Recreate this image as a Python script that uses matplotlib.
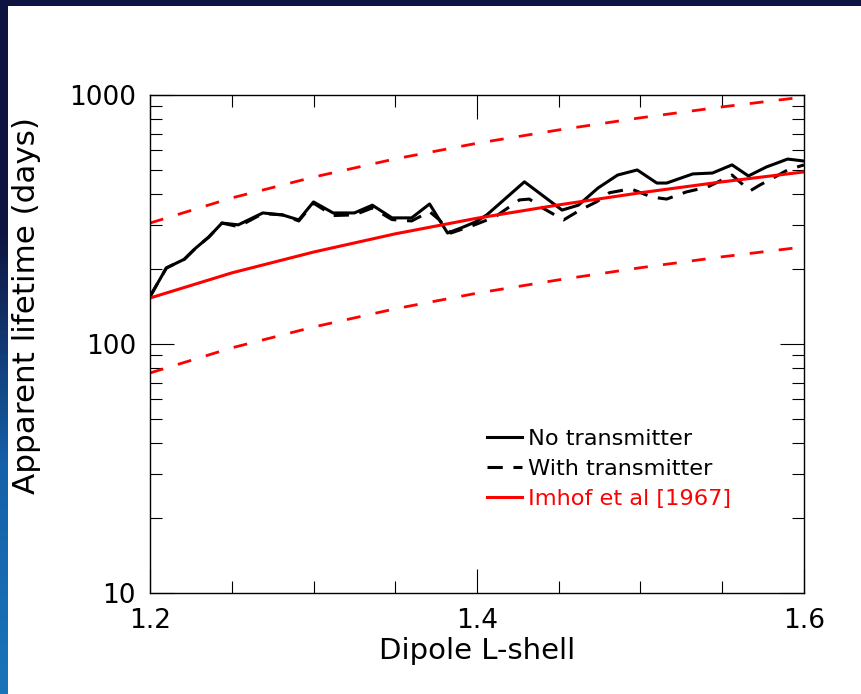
import numpy as np
import matplotlib
matplotlib.use("Agg")
import matplotlib.pyplot as plt
from matplotlib.colors import LinearSegmentedColormap
from matplotlib.ticker import FixedLocator, FuncFormatter

# --- data ---
L_no = [1.200, 1.210, 1.221, 1.228, 1.236, 1.244, 1.254, 1.269, 1.281, 1.291,
        1.300, 1.312, 1.325, 1.336, 1.348, 1.360, 1.371, 1.382, 1.390, 1.399,
        1.406, 1.429, 1.452, 1.462, 1.474, 1.486, 1.498, 1.510, 1.516, 1.532,
        1.544, 1.556, 1.566, 1.577, 1.590, 1.600]
life_no = [155, 202, 219, 243, 269, 306, 301, 336, 330, 315,
           372, 336, 336, 361, 321, 321, 365, 279, 292, 309,
           330, 448, 345, 361, 423, 477, 500, 443, 443, 482,
           486, 524, 473, 514, 553, 543]

L_with = [1.200, 1.210, 1.221, 1.228, 1.236, 1.244, 1.254, 1.269, 1.281, 1.291,
          1.300, 1.312, 1.325, 1.336, 1.348, 1.360, 1.371, 1.377, 1.384, 1.398,
          1.411, 1.426, 1.432, 1.439, 1.453, 1.463, 1.473, 1.481, 1.494, 1.507,
          1.516, 1.528, 1.541, 1.556, 1.567, 1.573, 1.581, 1.590, 1.600]
life_with = [155, 202, 219, 243, 269, 306, 296, 334, 330, 312,
             368, 328, 330, 352, 316, 312, 340, 315, 279, 300,
             324, 379, 382, 355, 315, 345, 372, 405, 420, 389,
             382, 408, 427, 477, 412, 435, 464, 500, 524]

L_imhof = [1.20, 1.25, 1.30, 1.35, 1.40, 1.45, 1.50, 1.55, 1.60]
imhof = [153, 193, 234, 277, 320, 362, 405, 448, 491]
imhof_hi = [306, 386, 468, 554, 640, 724, 810, 896, 982]
imhof_lo = [76.5, 96.5, 117, 138.5, 160, 181, 202.5, 224, 245.5]

x_major = [1.2, 1.4, 1.6]
x_minor = [1.25, 1.30, 1.35, 1.45, 1.50, 1.55]
y_major = [10, 100, 1000]

plt.rcParams["font.family"] = ["DejaVu Sans"]

fig = plt.figure(figsize=(8.62, 6.94), dpi=100, facecolor="white")

# slide frame: navy band on top, navy->blue strip on the left
top = fig.add_axes([0, 1 - 6 / 694, 1, 6 / 694])
top.set_axis_off()
top.add_patch(plt.Rectangle((0, 0), 1, 1, color="#0e1440", transform=top.transAxes))
left = fig.add_axes([0, 0, 8 / 862, 1])
cmap = LinearSegmentedColormap.from_list("strip", ["#0e1440", "#0e1440", "#1560a8", "#1a74b8"])
left.imshow(np.linspace(0, 1, 200).reshape(-1, 1), aspect="auto", cmap=cmap, extent=[0, 1, 0, 1])
left.set_axis_off()

ax = fig.add_axes([150 / 862, 1 - 593 / 694, 654 / 862, 498 / 694])

ax.plot(L_imhof, imhof_hi, color="red", lw=2.0, dashes=(5, 5.5))
ax.plot(L_imhof, imhof_lo, color="red", lw=2.0, dashes=(5, 5.5))
ax.plot(L_no, life_no, color="black", lw=2.2, label="No transmitter")
ax.plot(L_with, life_with, color="black", lw=2.2, dashes=(5, 3.5), label="With transmitter")
ax.plot(L_imhof, imhof, color="red", lw=2.2, label="Imhof et al [1967]")

ax.set_yscale("log")
ax.set_xlim(1.2, 1.6)
ax.set_ylim(10, 1000)

ax.xaxis.set_major_locator(FixedLocator(x_major))
ax.xaxis.set_minor_locator(FixedLocator(x_minor))
ax.xaxis.set_major_formatter(FuncFormatter(lambda v, p: f"{v:.1f}"))
ax.yaxis.set_major_locator(FixedLocator(y_major))
ax.yaxis.set_major_formatter(FuncFormatter(lambda v, p: f"{int(round(v))}"))
ax.yaxis.set_minor_locator(FixedLocator([k * d for d in (10, 100) for k in range(2, 10)]))
ax.yaxis.set_minor_formatter(FuncFormatter(lambda v, p: ""))

ax.tick_params(which="both", direction="in", top=True, right=True, width=0.8, color="black")
ax.tick_params(which="major", length=17, labelsize=19)
ax.tick_params(axis="x", which="major", pad=11)
ax.tick_params(axis="y", which="major", pad=10)
ax.tick_params(which="minor", length=8.5)
for s in ax.spines.values():
    s.set_linewidth(1.0)

ax.set_xlabel("Dipole L-shell", fontsize=21, labelpad=2)
ax.set_ylabel("Apparent lifetime (days)", fontsize=22.3)
ax.yaxis.set_label_coords(-0.166, 0.578)

leg = ax.legend(loc="upper left", bbox_to_anchor=(0.515, 0.33), frameon=False,
                fontsize=16.2, handlelength=1.55, handletextpad=0.3,
                labelspacing=0.45, borderpad=0, borderaxespad=0)
leg.get_texts()[2].set_color("red")

fig.savefig("out.png", dpi=100, facecolor=fig.get_facecolor())
